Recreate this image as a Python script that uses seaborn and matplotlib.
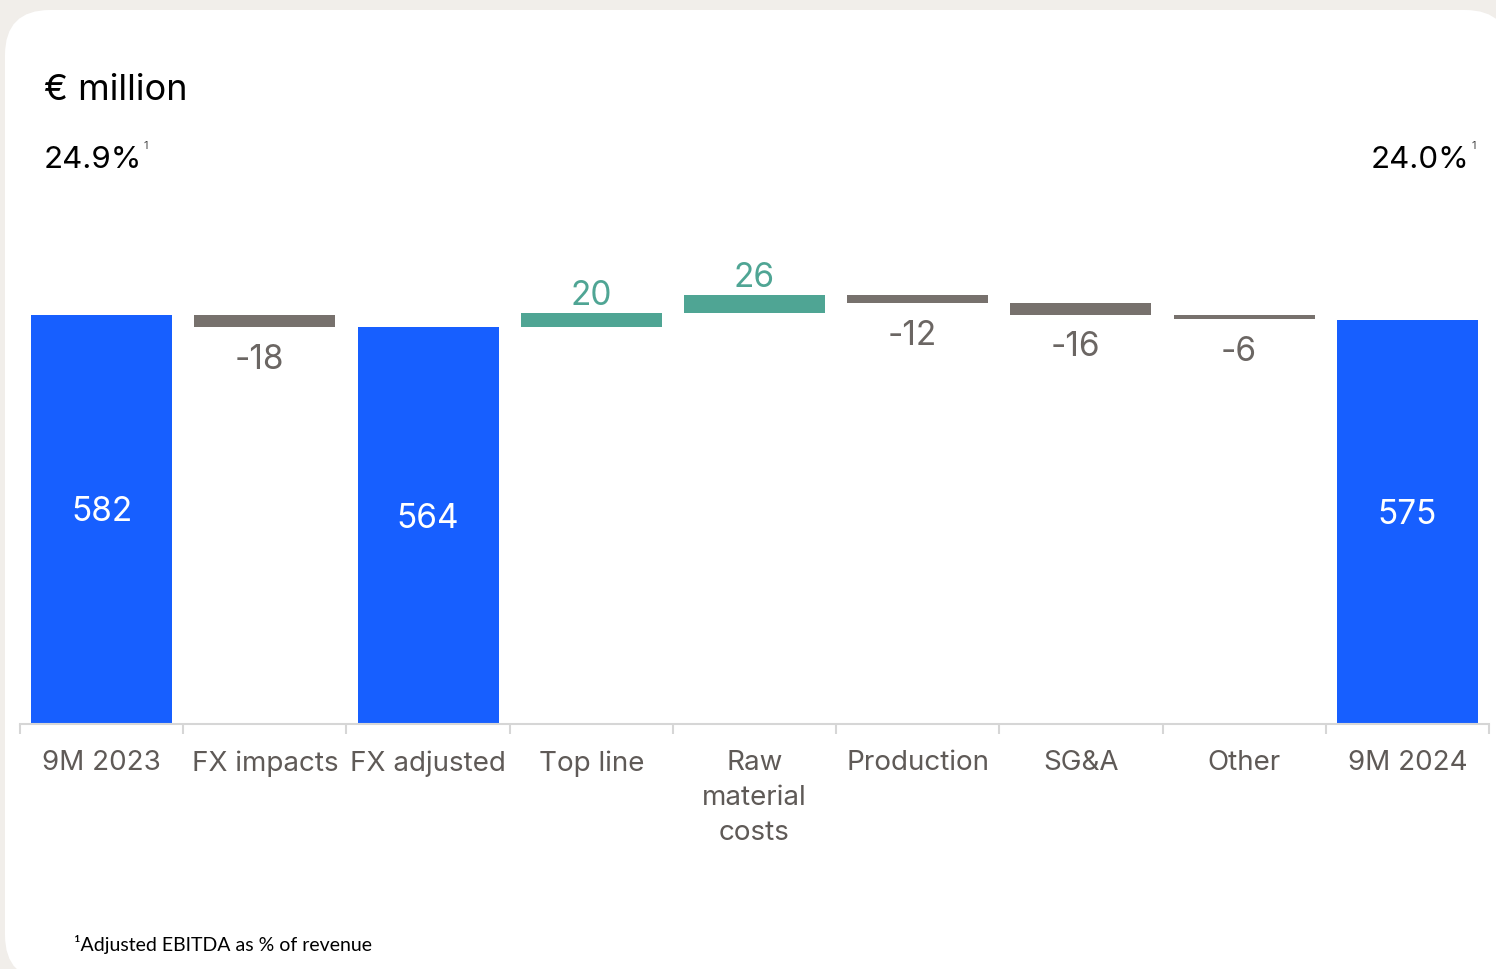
import numpy as np
import pandas as pd
import seaborn as sns
import matplotlib.pyplot as plt
from matplotlib.patches import FancyBboxPatch

categories = ["9M 2023", "FX impacts", "FX adjusted", "Top line", "Raw\nmaterial\ncosts",
              "Production", "SG&A", "Other", "9M 2024"]
values = [582, -18, 564, 20, 26, -12, -16, -6, 575]
kinds = ["total", "delta", "total", "delta", "delta", "delta", "delta", "delta", "total"]
margin_start = "24.9%"
margin_end = "24.0%"
unit_label = "€ million"
footnote = "¹Adjusted EBITDA as % of revenue"

BLUE = "#175fff"
TEAL = "#4fa594"
GRAY = "#77716d"
LABEL_GRAY = "#6b6663"

# waterfall geometry
bottoms, heights, colors = [], [], []
running = 0
for v, k in zip(values, kinds):
    if k == "total":
        bottoms.append(0)
        heights.append(v)
        colors.append(BLUE)
        running = v
    else:
        if v >= 0:
            bottoms.append(running)
            heights.append(v)
            colors.append(TEAL)
        else:
            bottoms.append(running + v)
            heights.append(-v)
            colors.append(GRAY)
        running += v

df = pd.DataFrame({"cat": categories, "h": heights})

sns.set_theme(style="white")
plt.rcParams["font.family"] = ["Inter", "DejaVu Sans"]

W, H = 1496, 969
fig = plt.figure(figsize=(W / 100, H / 100), dpi=100, facecolor="#f1eeea")

card = FancyBboxPatch((5, -11), 1505, 970, boxstyle="round,pad=0,rounding_size=45",
                      transform=None, facecolor="white", edgecolor="none", zorder=-10)
fig.patches.append(card)

ax = fig.add_axes([20 / W, (H - 724) / H, 1469 / W, 524 / H])
ax.set_zorder(5)
ax.set_facecolor("none")

sns.barplot(data=df, x="cat", y="h", order=categories, bottom=bottoms, width=0.864,
            color=BLUE, ax=ax, saturation=1)
for p, c in zip(ax.patches, colors):
    p.set_facecolor(c)
    p.set_edgecolor("none")

ax.set_xlim(-0.5, len(categories) - 0.5)
ax.set_ylim(0, 745)
ax.set_xlabel("")
ax.set_ylabel("")
ax.set_yticks([])
for s in ["top", "left", "right"]:
    ax.spines[s].set_visible(False)
ax.spines["bottom"].set_color("#d6d6d6")
ax.spines["bottom"].set_linewidth(1.5)

ax.set_xticks(range(len(categories)))
ax.set_xticklabels(categories, fontsize=20, color="#5f5a57", linespacing=1.45)
ax.tick_params(axis="x", which="major", bottom=False, length=0, pad=19)
ax.set_xticks(np.arange(-0.5, len(categories)), minor=True)
ax.tick_params(axis="x", which="minor", bottom=True, length=7, width=1.5,
               color="#d6d6d6", direction="out")

for i, (v, k, b, h) in enumerate(zip(values, kinds, bottoms, heights)):
    if k == "total":
        ax.text(i, b + h / 2 + 10, f"{v}", ha="center", va="center", color="white", fontsize=24)
    elif v >= 0:
        ax.annotate(f"{v}", (i, b + h), xytext=(0, 1), textcoords="offset points",
                    ha="center", va="bottom", color=TEAL, fontsize=24)
    else:
        ax.annotate(f"{v}", (i, b), xytext=(-4, -12), textcoords="offset points",
                    ha="center", va="top", color=LABEL_GRAY, fontsize=24)

fig.text(44 / W, 1 - 91 / H, unit_label, fontsize=26, color="black", va="center", ha="left")
fig.text(44 / W, 1 - 160 / H, margin_start, fontsize=22.5, color="black", va="center", ha="left")
fig.text(143 / W, 1 - 146 / H, "1", fontsize=8, color="#444444", va="center", ha="left")
fig.text(1469 / W, 1 - 160 / H, margin_end, fontsize=22.5, color="black", va="center", ha="right")
fig.text(1472 / W, 1 - 146 / H, "1", fontsize=8, color="#444444", va="center", ha="left")
fig.text(74 / W, 1 - 945 / H, footnote, fontsize=14, color="black", va="center", ha="left",
         family=["Lato", "DejaVu Sans"])

fig.savefig("out.png", dpi=100, facecolor=fig.get_facecolor())
